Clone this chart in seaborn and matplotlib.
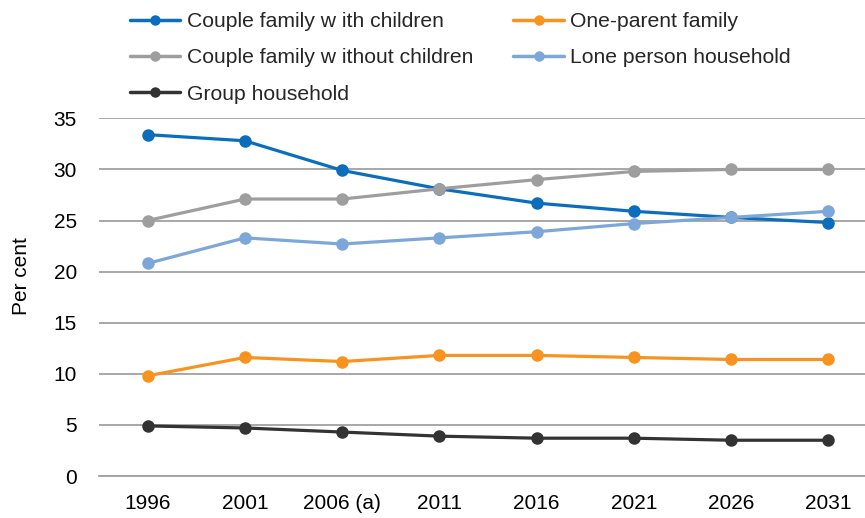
import matplotlib
matplotlib.use("Agg")
import matplotlib.pyplot as plt
import seaborn as sns
import pandas as pd
import numpy as np
from matplotlib.lines import Line2D

years = ["1996", "2001", "2006 (a)", "2011", "2016", "2021", "2026", "2031"]
couple_with_children = [33.4, 32.8, 29.9, 28.1, 26.7, 25.9, 25.3, 24.8]
one_parent = [9.8, 11.6, 11.2, 11.8, 11.8, 11.6, 11.4, 11.4]
couple_without_children = [25.0, 27.1, 27.1, 28.1, 29.0, 29.8, 30.0, 30.0]
lone_person = [20.8, 23.3, 22.7, 23.3, 23.9, 24.7, 25.3, 25.9]
group_household = [4.9, 4.7, 4.3, 3.9, 3.7, 3.7, 3.5, 3.5]

series = {
    "Couple family with children": couple_with_children,
    "One-parent family": one_parent,
    "Couple family without children": couple_without_children,
    "Lone person household": lone_person,
    "Group household": group_household,
}
colors = {
    "Couple family with children": "#0A6EBD",
    "One-parent family": "#F7931E",
    "Couple family without children": "#9E9E9E",
    "Lone person household": "#7DA7D9",
    "Group household": "#333333",
}
legend_labels = {
    "Couple family with children": "Couple family w ith children",
    "One-parent family": "One-parent family",
    "Couple family without children": "Couple family w ithout children",
    "Lone person household": "Lone person household",
    "Group household": "Group household",
}

rows = []
for name, vals in series.items():
    for i, (y, v) in enumerate(zip(years, vals)):
        rows.append({"pos": i, "year": y, "value": v, "series": name})
df = pd.DataFrame(rows)

sns.set_theme(style="white")
plt.rcParams["font.family"] = ["Liberation Sans", "DejaVu Sans"]

fig = plt.figure(figsize=(8.65, 5.18), dpi=100)
ax = fig.add_axes([99 / 865, (518 - 476) / 518, 778 / 865, (476 - 118.3) / 518])

order = list(series.keys())
sns.lineplot(data=df, x="pos", y="value", hue="series", hue_order=order,
             palette=colors, marker="o", markersize=9, markeredgewidth=0,
             linewidth=2.3, ax=ax, legend=False, zorder=3)

ax.set_xlim(-0.5, 7.5)
ax.set_ylim(0, 35)
ax.set_yticks(np.arange(0, 36, 5))
ax.yaxis.grid(True, color="#A0A0A0", linewidth=1.3, zorder=0)
ax.set_axisbelow(True)
for s in ["top", "right", "left"]:
    ax.spines[s].set_visible(False)
ax.spines["bottom"].set_color("#A0A0A0")
ax.spines["bottom"].set_linewidth(1.3)

ax.set_xticks(range(len(years)))
ax.set_xticklabels(years)
ax.set_xticks(np.arange(-0.5, 8, 1), minor=True)
ax.tick_params(axis="x", which="major", length=0, pad=13, labelsize=15, colors="black")
ax.tick_params(axis="x", which="minor", length=6, width=1.3, color="#A0A0A0", direction="out")
ax.tick_params(axis="y", length=0, pad=16, labelsize=15, colors="black")
ax.set_xlabel("")
ax.set_ylabel("Per cent", fontsize=15, color="black")
ax.yaxis.set_label_coords(-0.088, 0.56)

leg_order = ["Couple family with children", "Couple family without children", "Group household",
             "One-parent family", "Lone person household"]
handles = [Line2D([0], [0], color=colors[k], lw=2.5, marker="o", markersize=7.5, markeredgewidth=0)
           for k in leg_order]
labels = [legend_labels[k] for k in leg_order]
fig.legend(handles, labels, ncol=2, loc="upper left", bbox_to_anchor=(130 / 865, 1.0 - 12 / 518),
           frameon=False, fontsize=15.2, handlelength=2.37, handletextpad=0.33,
           columnspacing=1.9, labelspacing=0.82, borderaxespad=0, borderpad=0)

fig.savefig("out.png", dpi=100)
